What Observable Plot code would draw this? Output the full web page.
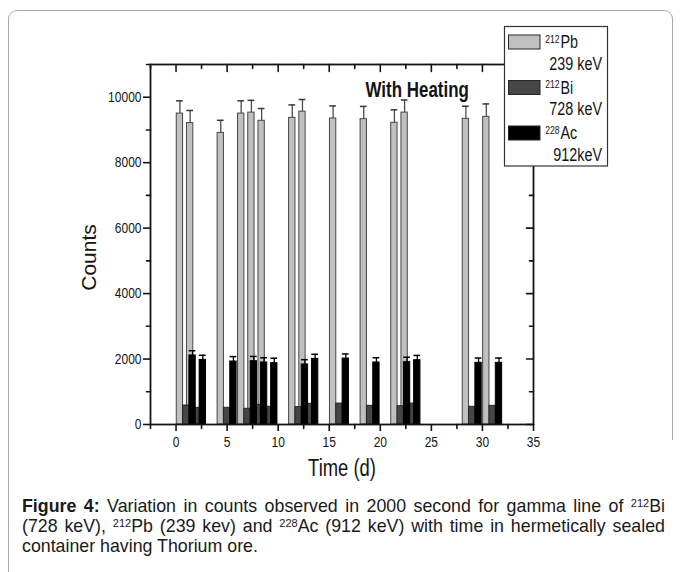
<!DOCTYPE html>
<html><head><meta charset="utf-8">
<script src="https://cdn.jsdelivr.net/npm/d3@7"></script>
<script src="https://cdn.jsdelivr.net/npm/@observablehq/plot@0.6"></script>
<style>
html,body{margin:0;padding:0;background:#fff;}
#fig{position:relative;width:681px;height:572px;overflow:hidden;background:#fff;font-family:"Liberation Sans",Arial,sans-serif;}
#border{position:absolute;left:8px;top:10px;width:665px;height:430px;border:1px solid #a9a9a9;border-bottom:none;border-radius:9px 9px 0 0;box-sizing:border-box;}
#leftline{position:absolute;left:8px;top:440px;width:0;height:140px;border-left:1px solid #a9a9a9;}
#chart{position:absolute;left:0;top:0;}
#legend{position:absolute;left:0;top:0;}
#caption{position:absolute;left:22px;top:496px;width:643px;font-size:17.8px;color:#1a1a1a;}
#caption .ln{height:20px;line-height:20px;}
#caption .j{text-align:justify;text-align-last:justify;}
#caption sup{font-size:11px;vertical-align:baseline;position:relative;top:-5.5px;line-height:0;}
</style></head><body>
<div id="fig">
  <div id="border"></div>
  <div id="leftline"></div>
  <div id="chart"></div>
  <svg id="legend" width="681" height="200"></svg>
  <div id="caption">
    <div class="ln j"><b>Figure 4:</b> Variation in counts observed in 2000 second for gamma line of <sup>212</sup>Bi</div>
    <div class="ln j">(728 keV), <sup>212</sup>Pb (239 kev) and <sup>228</sup>Ac (912 keV) with time in hermetically sealed</div>
    <div class="ln">container having Thorium ore.</div>
  </div>
</div>
<script>
// ---- data ----
const times  = [1, 2, 5, 7, 8, 9, 12, 13, 16, 19, 22, 23, 29, 31];
const pb     = [9500, 9210, 8910, 9500, 9530, 9280, 9370, 9560, 9350, 9330, 9220, 9530, 9340, 9400];
const pbErr  = [390, 385, 385, 390, 375, 375, 395, 370, 385, 390, 395, 385, 385, 395];
const bi     = [580, 510, 510, 480, 600, 540, 530, 630, 640, 570, 560, 640, 540, 570];
const ac     = [2110, 1975, 1925, 1935, 1895, 1875, 1835, 2005, 2015, 1895, 1905, 1965, 1885, 1885];
const acErr  = [145, 140, 150, 145, 145, 150, 145, 140, 140, 145, 150, 145, 145, 145];

const xTicks = [0, 5, 10, 15, 20, 25, 30, 35];
const xMinor = [-2.5, 2.5, 7.5, 12.5, 17.5, 22.5, 27.5, 32.5];
const yTicks = [0, 2000, 4000, 6000, 8000, 10000];
const yMinor = [1000, 3000, 5000, 7000, 9000, 11000];

const symbols  = ["Pb", "Bi", "Ac"];
const masses   = ["212", "212", "228"];
const energies = ["239 keV", "728 keV", "912keV"];
const fills    = ["#c0c0c0", "#464646", "#000000"];

const xLabel = "Time (d)";
const yLabel = "Counts";
const note = "With Heating";

// ---- build ----
const rows = times.map((t, i) => ({t, pb: pb[i], pbErr: pbErr[i], bi: bi[i], ac: ac[i], acErr: acErr[i]}));
const w = 0.62;       // bar width in days
const cap = 0.33;     // error cap half width
const ink = "#141414";
const tickShape = {draw(context, l) { context.moveTo(0, 0); context.lineTo(0, -l); }};
const tk = (vals, ch, side, len, rot) => Plot.vector(vals, {[ch]: d => d, frameAnchor: side, length: len, rotate: rot, anchor: "start", shape: tickShape, stroke: ink, strokeWidth: 1.6});

const chart = Plot.plot({
  width: 681, height: 490,
  marginTop: 64, marginLeft: 150, marginRight: 148, marginBottom: 66,
  x: {domain: [-2.5, 35]},
  y: {domain: [0, 11000]},
  style: {fontFamily: "'Liberation Sans', Arial, sans-serif", fontSize: "15px", color: ink, background: "transparent", overflow: "visible"},
  marks: [
    Plot.rect(rows, {x1: d => d.t - 1.5 * w, x2: d => d.t - 0.5 * w, y1: 0, y2: "pb", fill: fills[0], stroke: "#474747", strokeWidth: 1}),
    Plot.rect(rows, {x1: d => d.t - 0.5 * w, x2: d => d.t + 0.5 * w, y1: 0, y2: "bi", fill: fills[1], stroke: "#262626", strokeWidth: 1}),
    Plot.rect(rows, {x1: d => d.t + 0.5 * w, x2: d => d.t + 1.5 * w, y1: 0, y2: "ac", fill: fills[2], stroke: "#000", strokeWidth: 1}),
    Plot.ruleX(rows, {x: d => d.t - w, y1: "pb", y2: d => d.pb + d.pbErr, stroke: "#4a4a4a", strokeWidth: 1.3}),
    Plot.ruleY(rows, {y: d => d.pb + d.pbErr, x1: d => d.t - w - cap, x2: d => d.t - w + cap, stroke: "#3a3a3a", strokeWidth: 1.5}),
    Plot.ruleX(rows, {x: d => d.t + w, y1: "ac", y2: d => d.ac + d.acErr, stroke: "#000", strokeWidth: 1.3}),
    Plot.ruleY(rows, {y: d => d.ac + d.acErr, x1: d => d.t + w - cap, x2: d => d.t + w + cap, stroke: "#000", strokeWidth: 1.5}),
    Plot.frame({stroke: ink, strokeWidth: 1.8}),
    Plot.axisX(xTicks, {anchor: "bottom", tickSize: 7, tickPadding: 5, strokeWidth: 1.6, label: null, tickFormat: "d"}),
    Plot.axisY(yTicks, {anchor: "left", tickSize: 7, tickPadding: 2, strokeWidth: 1.6, label: null, tickFormat: "d"}),
    tk(xMinor, "x", "bottom", 4, 180),
    tk(yMinor, "y", "left", 4, 270),
    tk(xTicks, "x", "top", 7, 180),
    tk(xMinor, "x", "top", 4, 180),
    tk(yTicks, "y", "right", 7, 270),
    tk(yMinor, "y", "right", 4, 270),
    Plot.text([xLabel], {text: d => d, frameAnchor: "bottom", dy: 51, textAnchor: "middle", lineAnchor: "bottom", fontSize: 23, fill: ink}),
    Plot.text([yLabel], {text: d => d, frameAnchor: "left", dx: -61, dy: 13, rotate: -90, textAnchor: "middle", lineAnchor: "middle", fontSize: 21, fill: ink}),
    Plot.text([note], {text: d => d, frameAnchor: "top-left", dx: 215, dy: 32, textAnchor: "start", lineAnchor: "bottom", fontSize: 22, fontWeight: "bold", fill: ink})
  ]
});
document.getElementById("chart").appendChild(chart);

// ---- legend (text drawn in a horizontally condensed group) ----
const sx = 0.82;
const lg = d3.select("#legend").style("font-family", "'Liberation Sans', Arial, sans-serif");
lg.append("rect").attr("x", 504.5).attr("y", 26.5).attr("width", 103).attr("height", 139.5)
  .attr("fill", "#fff").attr("stroke", "#333").attr("stroke-width", 1.2);
const label = (x, y, size, str, anchor) =>
  lg.append("g").attr("transform", `translate(${x},${y}) scale(${sx},1)`)
    .append("text").attr("font-size", size).attr("fill", ink).attr("text-anchor", anchor).text(str);
symbols.forEach((s, i) => {
  const y0 = 35 + i * 45.5;
  lg.append("rect").attr("x", 508.5).attr("y", y0).attr("width", 31.5).attr("height", 14)
    .attr("fill", fills[i]).attr("stroke", "#262626").attr("stroke-width", 1);
  label(545.3, y0 + 7.6, 10.5, masses[i], "start");
  label(560.5, y0 + 13.4, 17.5, s, "start");
  label(602, y0 + 34.6, 17.5, energies[i], "end");
});

// ---- condense chart text like the original narrow typeface ----
function squeeze(root, factorFor) {
  root.querySelectorAll("text").forEach(t => {
    const f = factorFor(t.textContent);
    if (f === 1) return;
    const L = t.getComputedTextLength();
    if (L > 0) {
      t.setAttribute("textLength", (L * f).toFixed(2));
      t.setAttribute("lengthAdjust", "spacingAndGlyphs");
    }
  });
}
squeeze(chart, s => s === yLabel ? 1 : s === note ? 0.77 : 0.8);
</script>
</body></html>
